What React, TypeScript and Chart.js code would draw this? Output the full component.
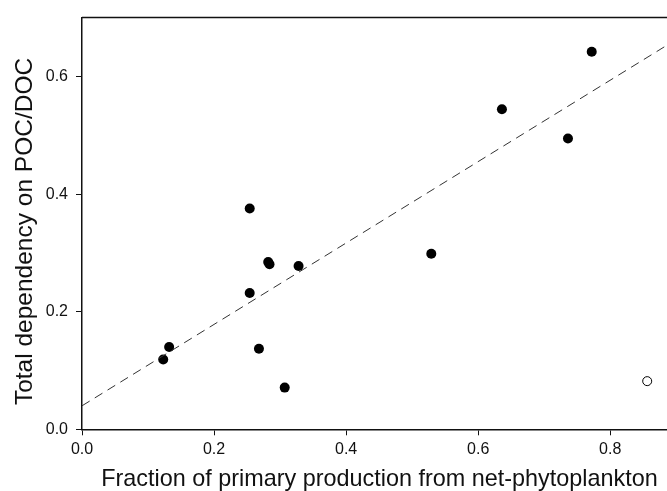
import React, { useEffect, useRef } from "react";
import { Chart, registerables } from "chart.js";

Chart.register(...registerables);

const filledX = [0.123, 0.132, 0.254, 0.282, 0.284, 0.328, 0.268, 0.307, 0.254, 0.529, 0.636, 0.736, 0.772];
const filledY = [0.119, 0.140, 0.232, 0.285, 0.281, 0.278, 0.137, 0.071, 0.376, 0.299, 0.545, 0.495, 0.643];
const openX = [0.856];
const openY = [0.082];
const fitX = [0, 0.886];
const fitY = [0.04, 0.654];

const xTitle = "Fraction of primary production from net-phytoplankton";
const yTitle = "Total dependency on POC/DOC";

const FONT = "'Liberation Sans', Arial, Helvetica, sans-serif";

const toPts = (xs: number[], ys: number[]) => xs.map((x, i) => ({ x, y: ys[i] }));

const decorations = {
  id: "decorations",
  afterDraw(chart: any) {
    const { ctx, chartArea } = chart;
    ctx.save();
    // top frame line
    ctx.strokeStyle = "#111";
    ctx.lineWidth = 1.5;
    ctx.beginPath();
    ctx.moveTo(chartArea.left, chartArea.top);
    ctx.lineTo(chartArea.right, chartArea.top);
    ctx.stroke();
    // axis titles
    ctx.fillStyle = "#111";
    ctx.textBaseline = "alphabetic";
    ctx.textAlign = "center";
    ctx.font = `23.4px ${FONT}`;
    ctx.fillText(xTitle, (chartArea.left + chartArea.right) / 2 + 5, 485.5);
    ctx.translate(32, (chartArea.top + chartArea.bottom) / 2 + 8);
    ctx.rotate(-Math.PI / 2);
    ctx.font = `24.5px ${FONT}`;
    ctx.fillText(yTitle, 0, 0);
    ctx.restore();
  },
};

export default function App() {
  const ref = useRef<HTMLCanvasElement | null>(null);
  useEffect(() => {
    if (!ref.current) return;
    const chart = new Chart(ref.current, {
      type: "scatter",
      data: {
        datasets: [
          {
            type: "line",
            data: toPts(fitX, fitY),
            borderColor: "#333",
            borderWidth: 1,
            borderDash: [9, 6],
            pointRadius: 0,
            fill: false,
          } as any,
          {
            data: toPts(filledX, filledY),
            pointRadius: 5,
            pointBackgroundColor: "#000",
            pointBorderColor: "#000",
            pointBorderWidth: 0,
          },
          {
            data: toPts(openX, openY),
            pointRadius: 4.5,
            pointBackgroundColor: "#fff",
            pointBorderColor: "#000",
            pointBorderWidth: 1,
          },
        ],
      },
      options: {
        responsive: false,
        animation: false,
        layout: { padding: { top: 15.5, left: 0, right: 0, bottom: 0 }, autoPadding: false },
        plugins: { legend: { display: false }, tooltip: { enabled: false } },
        scales: {
          x: {
            type: "linear",
            min: 0,
            max: 0.886,
            afterFit: (s: any) => { s.height = 61.7; },
            border: { display: true, color: "#111", width: 1.5 },
            grid: { drawOnChartArea: false, drawTicks: true, tickLength: 6, color: "#111" },
            ticks: {
              stepSize: 0.2,
              includeBounds: false,
              padding: 5,
              color: "#111",
              font: { family: FONT, size: 16 },
              callback: (v: any) => Number(v).toFixed(1),
            },
            title: { display: false, text: xTitle },
          },
          y: {
            type: "linear",
            min: 0,
            max: 0.701,
            afterFit: (s: any) => { s.width = 82; },
            border: { display: true, color: "#111", width: 1.5 },
            grid: { drawOnChartArea: false, drawTicks: true, tickLength: 6, color: "#111" },
            ticks: {
              stepSize: 0.2,
              includeBounds: false,
              padding: 8,
              color: "#111",
              font: { family: FONT, size: 16 },
              callback: (v: any) => Number(v).toFixed(1),
            },
            title: { display: false, text: yTitle },
          },
        },
      },
      plugins: [decorations],
    });
    return () => chart.destroy();
  }, []);
  return (
    <div style={{ position: "fixed", left: 0, top: 0, width: 667, height: 491, background: "#fff" }}>
      <canvas ref={ref} width={667} height={491} style={{ display: "block" }} />
    </div>
  );
}
